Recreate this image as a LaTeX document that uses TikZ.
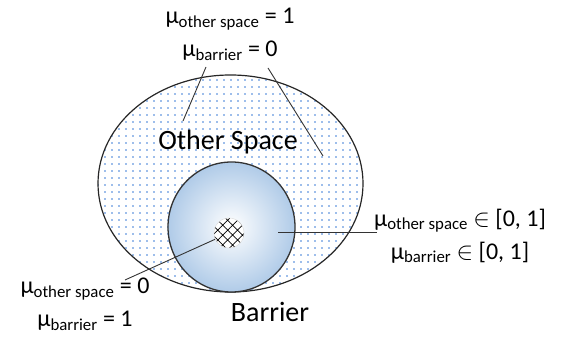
\documentclass[tikz,border=0pt]{standalone}
\usepackage{fontspec}
\setmainfont{Carlito}
\usepackage{xcolor}
\usepackage{tikz}
\usetikzlibrary{shapes.geometric,patterns.meta,positioning,calc}

\definecolor{dotblue}{RGB}{60,125,215}
\definecolor{barrierblue}{RGB}{176,203,232}

\newcommand{\mulbl}[1]{μ\textsubscript{#1}}
\newcommand{\elem}{{\fontsize{28}{33}\selectfont$\in$}}

\begin{document}
\begin{tikzpicture}[x=1pt,y=1pt,
  lbl/.style={font=\fontsize{24}{33}\selectfont, align=center, inner sep=0pt},
  region/.style={font=\fontsize{28}{30}\selectfont, inner sep=0pt},
  leader/.style={line width=0.9pt, black!80}]
\useasboundingbox (0,0) rectangle (561,339);

% Other space
\node[ellipse, draw=black!85, line width=1.2pt, inner sep=0pt,
  minimum width=265pt, minimum height=217pt,
  preaction={fill=white},
  pattern={Dots[distance=7pt, radius=0.9pt]}, pattern color=dotblue] (space) at (230.5,155.5) {};

% Barrier
\node[ellipse, draw=black!80, line width=1.3pt, inner sep=0pt,
  minimum width=127pt, minimum height=130pt,
  inner color=white, outer color=barrierblue] (barrier) at (231.5,112) {};

% core
\node[circle, inner sep=0pt, minimum size=30pt, draw=black!15,
  preaction={fill=white},
  pattern={Hatch[angle=45, distance=7pt, line width=0.7pt]}, pattern color=black] (core) at (229,106) {};

% region names
\node[region] (spacename) at (228,197) {Other Space};
\node[region] (barriername) at (270,27) {Barrier};

% membership labels
\node[lbl] (toplbl) at (230,305) {\mulbl{other space} = 1\\\mulbl{barrier} = 0};
\node[lbl] (rightlbl) at (460,103) {\mulbl{other space} \elem{} [0, 1]\\\mulbl{barrier} \elem{} [0, 1]};
\node[lbl] (leftlbl) at (85,35) {\mulbl{other space} = 0\\\mulbl{barrier} = 1};

% leaders
\coordinate (ta) at (206,272);
\coordinate (tb) at (183,218);
\coordinate (tc) at (268,271);
\coordinate (td) at (323,183);
\coordinate (ra) at (278,107);
\coordinate (rb) at (377,107);
\coordinate (la) at (125,59);
\draw[leader] (ta) -- (tb);
\draw[leader] (tc) -- (td);
\draw[leader] (ra) -- (rb);
\draw[leader] (core) -- (la);
\end{tikzpicture}
\end{document}
